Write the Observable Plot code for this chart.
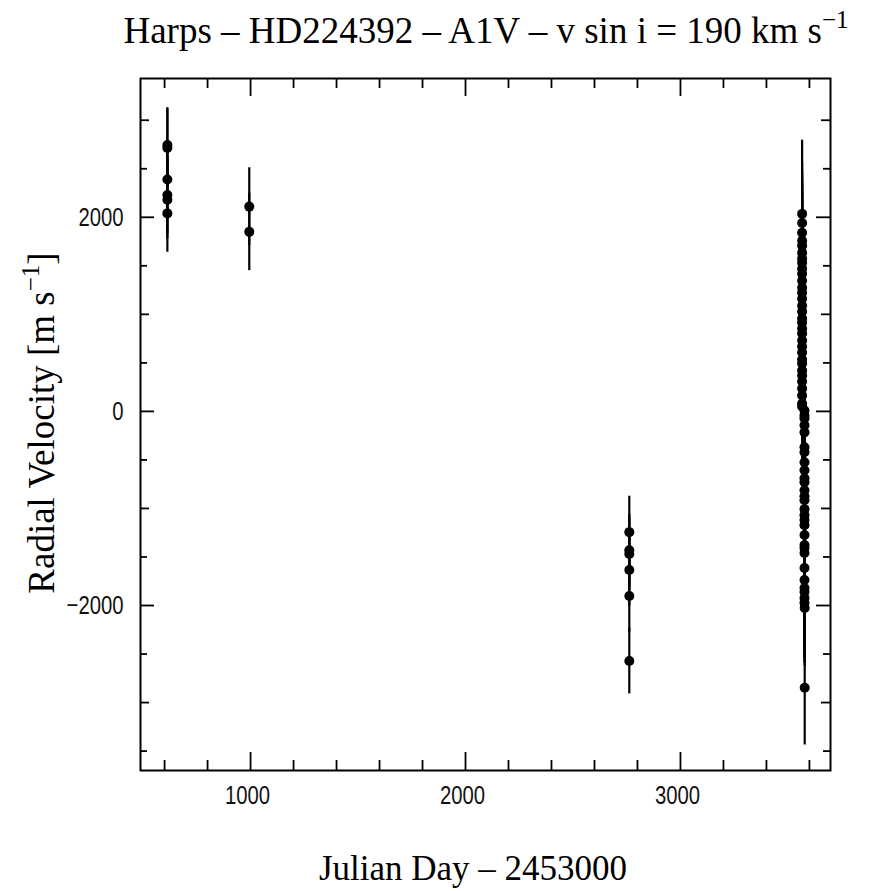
<!DOCTYPE html>
<html><head><meta charset="utf-8">
<script src="https://cdn.jsdelivr.net/npm/d3@7"></script>
<script src="https://cdn.jsdelivr.net/npm/@observablehq/plot@0.6"></script>
<style>
body{margin:0;background:#fff;}
#wrap{position:relative;width:869px;height:891px;}
#title{position:absolute;left:86px;width:800px;top:12px;text-align:center;font-family:"Liberation Serif","Times New Roman",serif;font-size:37px;line-height:37px;color:#000;white-space:nowrap;}
#title sup{font-size:25px;line-height:0;vertical-align:0;position:relative;top:-15px;}
#chart{position:absolute;left:0;top:62px;}
</style></head><body>
<div id="wrap"><div id="title">Harps – HD224392 – A1V – v sin i = 190 km s<sup>−1</sup></div><div id="chart"></div></div>
<script>
// Julian Day − 2453000
const julianDay = [
  613, 613, 613, 613, 613, 613,
  994, 994,
  2762, 2762, 2762, 2762, 2762, 2762,
  3566, 3566, 3566, 3566, 3566, 3566, 3566, 3566, 3566, 3566,
  3566, 3566, 3566, 3566, 3566, 3566, 3566, 3566, 3566, 3566,
  3566, 3566, 3566, 3566, 3566, 3566, 3566, 3566, 3566, 3566,
  3566, 3566,
  3577, 3577, 3577, 3577, 3577, 3577, 3577, 3577, 3577, 3577,
  3577, 3577, 3577, 3577, 3577, 3577, 3577, 3577, 3577, 3577,
  3577, 3577, 3577, 3577, 3577, 3577, 3577, 3577, 3578, 3578
];
// Radial velocity [m/s]
const radialVelocity = [
  2745, 2715, 2390, 2230, 2180, 2040,
  2110, 1850,
  -1244, -1430, -1470, -1635, -1902, -2571,
  2035, 1942, 1840, 1757, 1706, 1634, 1573, 1531, 1470, 1418,
  1346, 1274, 1223, 1161, 1089, 1028, 956, 915, 853, 802,
  730, 668, 606, 534, 493, 421, 370, 308, 236, 164,
  82, 51,
  10, -41, -72, -144, -216, -370, -421, -524, -606, -689,
  -730, -812, -874, -915, -1007, -1069, -1120, -1172, -1274, -1377,
  -1408, -1459, -1614, -1737, -1819, -1860, -1922, -1973, -2025, -2847
];
// Uncertainty [m/s]
const rvError = [
  385, 400, 400, 400, 400, 400,
  400, 400,
  370, 370, 370, 370, 370, 340,
  760, 620, 620, 620, 620, 620, 620, 620, 620, 620,
  620, 620, 620, 620, 620, 620, 620, 620, 620, 620,
  620, 620, 620, 620, 620, 620, 620, 620, 620, 620,
  620, 620,
  620, 620, 620, 620, 620, 620, 620, 620, 620, 620,
  620, 620, 620, 620, 620, 620, 620, 620, 620, 620,
  620, 620, 620, 620, 620, 620, 620, 620, 600, 590
];
const xMajor = [1000, 2000, 3000];
const xMinor = [600, 800, 1200, 1400, 1600, 1800, 2200, 2400, 2600, 2800, 3200, 3400, 3600];
const yLong = [-2000, 0, 2000];
const yMedium = [-3000, -1000, 1000, 3000];
const yShort = [-3500, -2500, -1500, -500, 500, 1500, 2500];

const data = julianDay.map((x, i) => ({jd: x, rv: radialVelocity[i], err: rvError[i]}));

const W = 869, H = 829, mT = 16, mB = 121, mL = 140, mR = 39;
const iH = H - mT - mB, iW = W - mL - mR;
const tickFont = '"Liberation Sans",Arial,sans-serif';
const fmt = d => d < 0 ? "\u2212" + Math.abs(d) : String(d);

const plot = Plot.plot({
  width: W, height: H,
  marginTop: mT, marginBottom: mB, marginLeft: mL, marginRight: mR,
  x: {domain: [488, 3698]},
  y: {domain: [-3700, 3430]},
  style: {background: "white", color: "black"},
  marks: [
    Plot.ruleX(data, {x: "jd", y1: d => d.rv - d.err, y2: d => d.rv + d.err, stroke: "black", strokeWidth: 2.2}),
    Plot.dot(data, {x: "jd", y: "rv", r: 5, fill: "black", stroke: "none"}),
    Plot.ruleX(xMinor, {x: d => d, insetTop: iH - 10, stroke: "black", strokeWidth: 1.8}),
    Plot.ruleX(xMinor, {x: d => d, insetBottom: iH - 10, stroke: "black", strokeWidth: 1.8}),
    Plot.ruleX(xMajor, {x: d => d, insetTop: iH - 18, stroke: "black", strokeWidth: 1.8}),
    Plot.ruleX(xMajor, {x: d => d, insetBottom: iH - 18, stroke: "black", strokeWidth: 1.8}),
    Plot.ruleY(yShort, {y: d => d, insetRight: iW - 7, stroke: "black", strokeWidth: 1.8}),
    Plot.ruleY(yShort, {y: d => d, insetLeft: iW - 7, stroke: "black", strokeWidth: 1.8}),
    Plot.ruleY(yMedium, {y: d => d, insetRight: iW - 9, stroke: "black", strokeWidth: 1.8}),
    Plot.ruleY(yMedium, {y: d => d, insetLeft: iW - 9, stroke: "black", strokeWidth: 1.8}),
    Plot.ruleY(yLong, {y: d => d, insetRight: iW - 14, stroke: "black", strokeWidth: 1.8}),
    Plot.ruleY(yLong, {y: d => d, insetLeft: iW - 14, stroke: "black", strokeWidth: 1.8}),
    Plot.frame({stroke: "black", strokeWidth: 2}),
    Plot.axisX(xMajor, {tickSize: 0, tickPadding: 15, fontSize: 26, fontFamily: tickFont, label: null, tickFormat: fmt, fill: "#111", dx: -3}),
    Plot.axisY(yLong, {tickSize: 0, tickPadding: 17, fontSize: 26, fontFamily: tickFont, label: null, tickFormat: fmt, fill: "#111"})
  ]
});

const svg = d3.select(plot);
// condense tick labels (narrow sans look)
svg.selectAll('g[aria-label="x-axis tick label"] text, g[aria-label="y-axis tick label"] text').each(function() {
  const t = this.getAttribute("transform") || "";
  this.setAttribute("transform", t + " scale(0.78,1)");
});
const serif = '"Liberation Serif","Times New Roman",serif';
// x-axis label
svg.append("text")
  .attr("x", mL + iW / 2 - 12).attr("y", 880 - 62)
  .attr("text-anchor", "middle")
  .attr("font-family", serif).attr("font-size", 35).attr("fill", "#000")
  .text("Julian Day – 2453000");
// y-axis label
const yl = svg.append("text")
  .attr("transform", `translate(54, ${423 - 62}) rotate(-90)`)
  .attr("text-anchor", "middle")
  .attr("font-family", serif).attr("font-size", 37).attr("fill", "#000");
yl.append("tspan").text("Radial Velocity [m s");
yl.append("tspan").attr("font-size", 25).attr("dy", -15).text("−1");
yl.append("tspan").attr("dy", 15).text("]");

document.getElementById("chart").appendChild(plot);
</script>
</body></html>
